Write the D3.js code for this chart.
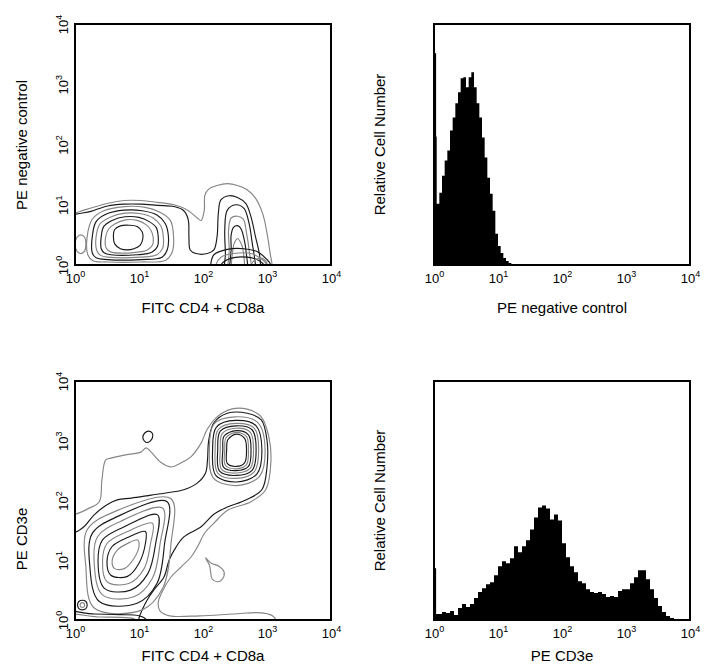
<!DOCTYPE html>
<html>
<head>
<meta charset="utf-8">
<title>Flow cytometry: CD4 + CD8a vs CD3e</title>
<script src="https://cdn.jsdelivr.net/npm/d3@7"></script>
<style>
    body { margin: 0; background: #fff; }
    text { font-family: "Liberation Sans", Arial, sans-serif; fill: #000; }
</style>
</head>
<body>
<svg id="chart" width="704" height="664"></svg>
<script>
    var FONT = '"Liberation Sans", Arial, sans-serif';
    var decadeTicks = [1, 10, 100, 1000, 10000];

    // ---- histograms (counts per bin, bins are log10 steps starting at 10^0)
    var negStep = 1 / 24;
    var negCounts = [128, 61, 72, 89, 104, 114, 134, 147, 161, 172, 186, 187, 177, 187, 192, 177,
        161, 147, 127, 107, 87, 71, 54, 31, 19, 12, 7, 4, 2, 1, 1, 1];
    var negFirstChannel = 211;

    var cd3Step = 1 / 16;
    var cd3Counts = [6, 6, 8, 7, 9, 5, 12, 16, 13, 16,
        22, 28, 32, 36, 38, 45, 54, 59, 57, 62,
        74, 68, 74, 80, 91, 103, 113, 115, 112, 101,
        106, 100, 77, 63, 54, 48, 39, 37, 31, 28,
        27, 28, 26, 23, 24, 23, 29, 31, 31, 37,
        43, 50, 50, 41, 31, 22, 14, 8, 4, 2,
        1, 1, 1, 1];
    var cd3FirstChannel = 52;

    // ---- contour rings, points are [log10 FITC, log10 PE]; anything past the frame is clipped
    var negOuter = [[-0.15,0.86],[0.0,0.86],[0.14,0.91],[0.50,1.02],[0.77,1.07],[1.03,1.07],[1.29,1.04],
        [1.55,1.0],[1.76,0.91],[1.91,0.78],[1.97,0.74],[2.02,0.91],[2.03,1.16],[2.09,1.26],[2.22,1.32],
        [2.38,1.35],[2.54,1.32],[2.69,1.25],[2.82,1.11],[2.93,0.86],[3.0,0.53],[3.05,0.19],[3.08,0.0],
        [3.1,-0.4],[-0.15,-0.4]];
    var negBand = [[-0.15,0.75],[0.25,0.89],[0.51,0.98],[0.77,1.01],[1.03,1.01],[1.29,0.99],[1.55,0.97],
        [1.70,0.90],[1.77,0.75],[1.78,0.47],[1.80,0.25],[1.89,0.19],[2.07,0.19],[2.17,0.25],[2.22,0.47],
        [2.24,0.86],[2.28,1.08],[2.41,1.15],[2.54,1.12],[2.67,1.02],[2.75,0.80],[2.82,0.47],[2.88,0.19],
        [2.90,0.0],[2.93,-0.4],[-0.15,-0.4]];
    var negDomes = [
        [[0.20,0.17],[0.19,0.47],[0.27,0.76],[0.45,0.90],[0.77,0.97],[1.08,0.96],[1.32,0.88],[1.49,0.74],
         [1.54,0.47],[1.52,0.22],[1.42,0.08],[1.03,0.05],[0.51,0.05],[0.28,0.07]],
        [[0.27,0.20],[0.27,0.47],[0.33,0.72],[0.50,0.85],[0.77,0.91],[1.05,0.90],[1.28,0.83],[1.41,0.69],
         [1.46,0.47],[1.44,0.25],[1.36,0.13],[1.03,0.09],[0.51,0.09],[0.33,0.12]],
        [[0.34,0.24],[0.33,0.47],[0.39,0.68],[0.54,0.79],[0.78,0.86],[1.03,0.85],[1.22,0.78],[1.34,0.65],
         [1.38,0.47],[1.37,0.28],[1.28,0.17],[1.03,0.13],[0.51,0.13],[0.40,0.16]],
        [[0.41,0.27],[0.41,0.47],[0.45,0.64],[0.58,0.74],[0.78,0.80],[1.0,0.79],[1.16,0.72],[1.27,0.62],
         [1.30,0.47],[1.29,0.31],[1.20,0.21],[0.97,0.17],[0.56,0.17],[0.46,0.20]],
        [[0.48,0.30],[0.48,0.47],[0.52,0.59],[0.62,0.68],[0.79,0.75],[0.97,0.74],[1.11,0.67],[1.19,0.57],
         [1.22,0.47],[1.21,0.33],[1.13,0.25],[0.95,0.21],[0.58,0.21],[0.52,0.24]]
    ];
    var negCore = [[0.60,0.47],[0.62,0.59],[0.71,0.65],[0.84,0.66],[0.97,0.64],[1.05,0.55],[1.06,0.44],
        [1.02,0.33],[0.92,0.27],[0.82,0.25],[0.71,0.27],[0.62,0.35]];
    var negEdge = [[0.0,0.35],[0.03,0.46],[0.09,0.50],[0.15,0.46],[0.17,0.35],[0.15,0.23],[0.09,0.19],[0.03,0.23]];
    var negRightPop = [
        [[2.35,-0.4],[2.35,0.19],[2.34,0.58],[2.38,0.91],[2.51,1.0],[2.64,0.94],[2.72,0.69],[2.77,0.36],[2.82,0.0],[2.84,-0.4]],
        [[2.41,-0.4],[2.41,0.25],[2.40,0.58],[2.44,0.78],[2.54,0.81],[2.63,0.76],[2.68,0.53],[2.72,0.25],[2.75,-0.4]],
        [[2.44,-0.4],[2.44,0.28],[2.44,0.50],[2.48,0.63],[2.55,0.65],[2.60,0.59],[2.64,0.44],[2.67,0.25],[2.68,-0.4]],
        [[2.47,-0.4],[2.47,0.28],[2.50,0.39],[2.54,0.44],[2.58,0.39],[2.62,0.28],[2.62,-0.4]]
    ];
    var negHot = [
        [[2.12,-0.4],[2.12,0.0],[2.17,0.17],[2.38,0.26],[2.64,0.27],[2.85,0.22],[2.98,0.11],[3.06,0.0],[3.06,-0.4]],
        [[2.20,-0.4],[2.20,0.0],[2.28,0.13],[2.48,0.19],[2.75,0.19],[2.90,0.11],[3.0,0.0],[3.0,-0.4]],
        [[2.28,-0.4],[2.28,0.0],[2.43,0.11],[2.69,0.13],[2.88,0.07],[2.95,0.0],[2.95,-0.4]],
        [[2.75,-0.4],[2.75,0.0],[2.82,0.09],[2.93,0.11],[3.01,0.0],[3.01,-0.4]]
    ];

    var cd3Outer = [[-0.16,1.76],[0.0,1.77],[0.20,1.86],[0.38,1.98],[0.42,2.34],[0.48,2.68],[0.56,2.71],
        [0.77,2.76],[1.03,2.81],[1.11,2.88],[1.19,2.81],[1.34,2.64],[1.50,2.56],[1.66,2.63],[1.81,2.73],
        [1.97,2.96],[2.06,3.18],[2.22,3.40],[2.44,3.53],[2.69,3.53],[2.91,3.40],[3.03,3.06],[3.06,2.63],
        [2.98,2.18],[2.75,1.98],[2.39,1.84],[2.17,1.62],[2.03,1.46],[1.91,1.22],[1.81,1.05],[1.66,0.89],
        [1.50,0.72],[1.36,0.47],[1.30,0.29],[1.33,0.15],[1.48,0.07],[1.95,0.07],[2.48,0.10],[2.91,0.12],
        [3.11,0.05],[3.17,-0.4],[-0.16,-0.4]];
    var cd3Band = [[-0.16,1.51],[0.0,1.47],[0.14,1.56],[0.30,1.76],[0.50,1.93],[0.66,2.01],[0.88,2.04],
        [1.19,2.09],[1.44,2.13],[1.70,2.18],[1.91,2.29],[2.04,2.46],[2.07,2.68],[2.09,3.01],[2.17,3.30],
        [2.38,3.46],[2.69,3.46],[2.91,3.35],[3.0,3.01],[3.0,2.56],[2.92,2.18],[2.67,2.01],[2.38,1.89],
        [2.17,1.77],[1.97,1.56],[1.70,1.39],[1.55,1.17],[1.47,1.0],[1.39,0.72],[1.23,0.50],[1.13,0.34],
        [1.05,0.17],[1.0,0.03],[0.97,-0.4],[-0.16,-0.4]];
    var cd3Upper = [
        [[2.10,2.85],[2.17,3.28],[2.50,3.40],[2.86,3.30],[2.97,2.85],[2.88,2.40],[2.52,2.25],[2.16,2.38]],
        [[2.15,2.85],[2.21,3.23],[2.51,3.34],[2.83,3.25],[2.92,2.85],[2.84,2.44],[2.52,2.31],[2.20,2.42]],
        [[2.19,2.85],[2.24,3.19],[2.51,3.29],[2.80,3.21],[2.87,2.85],[2.80,2.48],[2.52,2.37],[2.23,2.46]],
        [[2.23,2.85],[2.27,3.16],[2.52,3.25],[2.77,3.18],[2.83,2.85],[2.77,2.51],[2.52,2.42],[2.26,2.49]],
        [[2.27,2.85],[2.30,3.12],[2.52,3.21],[2.74,3.14],[2.79,2.85],[2.74,2.54],[2.52,2.46],[2.29,2.52]],
        [[2.31,2.85],[2.33,3.08],[2.52,3.17],[2.71,3.10],[2.75,2.85],[2.71,2.57],[2.52,2.50],[2.32,2.56]],
        [[2.34,2.85],[2.36,3.05],[2.52,3.14],[2.68,3.07],[2.71,2.85],[2.68,2.60],[2.52,2.53],[2.35,2.59]],
        [[2.37,2.85],[2.39,3.02],[2.52,3.11],[2.65,3.04],[2.68,2.85],[2.65,2.63],[2.52,2.57],[2.38,2.62]]
    ];
    var cd3Lower = [
        [[0.17,0.89],[0.19,1.51],[0.61,1.81],[1.50,2.03],[1.50,1.28],[1.37,0.53],[1.05,0.17],[0.30,0.20]],
        [[0.23,0.92],[0.27,1.45],[0.66,1.73],[1.44,1.98],[1.40,1.28],[1.28,0.61],[0.97,0.28],[0.38,0.31]],
        [[0.30,0.95],[0.35,1.39],[0.71,1.65],[1.37,1.87],[1.33,1.28],[1.21,0.70],[0.92,0.39],[0.43,0.42]],
        [[0.36,0.98],[0.43,1.34],[0.77,1.56],[1.29,1.76],[1.26,1.28],[1.14,0.78],[0.87,0.50],[0.46,0.53]],
        [[0.43,0.98],[0.50,1.28],[0.82,1.48],[1.21,1.62],[1.18,1.28],[1.08,0.86],[0.84,0.61],[0.50,0.64]],
        [[0.50,0.98],[0.58,1.23],[0.82,1.38],[1.10,1.48],[1.10,1.28],[1.0,0.95],[0.82,0.73],[0.56,0.75]],
        [[0.58,0.98],[0.66,1.17],[0.82,1.28],[0.98,1.34],[1.0,1.23],[0.92,1.03],[0.77,0.86],[0.62,0.86]]
    ];
    var cd3Islands = [
        [[1.06,3.06],[1.09,3.13],[1.15,3.16],[1.21,3.12],[1.21,3.05],[1.17,2.99],[1.12,2.97],[1.08,3.0]],
        [[2.04,1.04],[2.13,0.95],[2.25,0.90],[2.33,0.80],[2.30,0.68],[2.22,0.64],[2.14,0.69],[2.12,0.80],[2.10,0.92]],
        [[0.04,0.25],[0.06,0.31],[0.115,0.33],[0.17,0.31],[0.19,0.25],[0.17,0.19],[0.115,0.17],[0.06,0.19]],
        [[0.08,0.25],[0.09,0.28],[0.115,0.29],[0.14,0.28],[0.15,0.25],[0.14,0.22],[0.115,0.21],[0.09,0.22]]
    ];
    var cd3Floor = [
        [[-0.3,0.12],[0.3,0.10],[0.7,0.09],[1.0,0.07],[1.12,0.0],[1.15,-0.4],[-0.3,-0.4]],
        [[-0.3,0.06],[0.4,0.05],[0.8,0.04],[0.95,0.0],[0.97,-0.4],[-0.3,-0.4]]
    ];

    var negContours = [negOuter, negBand].concat(negDomes, [negCore, negEdge], negRightPop, negHot);
    var cd3Contours = [cd3Outer, cd3Band].concat(cd3Upper, cd3Lower, cd3Islands, cd3Floor);

    var svg = d3.select("#chart");

    function logX(box) {
        return d3.scaleLog().domain([1, 1e4]).range([box.left, box.left + box.width]);
    }

    function xAxis(g, x, box, title, titleY) {
        var ax = g.append("g")
            .attr("transform", "translate(0," + (box.top + box.height) + ")")
            .call(d3.axisBottom(x).tickValues(decadeTicks).tickSize(0).tickPadding(9)
                .tickFormat(function() { return "10"; }));
        ax.select(".domain").remove();
        ax.selectAll(".tick text")
            .attr("font-family", FONT).attr("font-size", 13).attr("fill", "#000")
            .append("tspan").attr("dy", -6).attr("font-size", 9)
            .text(function(d) { return Math.round(Math.log10(d)); });

        g.append("text")
            .attr("x", box.left + box.width / 2).attr("y", titleY)
            .attr("text-anchor", "middle").attr("font-size", 15)
            .text(title);
    }

    function yTitle(g, title, x, y) {
        g.append("text")
            .attr("transform", "translate(" + x + "," + y + ") rotate(-90)")
            .attr("text-anchor", "middle").attr("font-size", 15)
            .text(title);
    }

    function frame(g, box) {
        g.append("rect")
            .attr("x", box.left).attr("y", box.top)
            .attr("width", box.width).attr("height", box.height)
            .attr("fill", "none").attr("stroke", "#000").attr("stroke-width", 2);
    }

    function contourPanel(id, box, rings, xTitle, xTitleY, yLabel, yLabelY) {
        var g = svg.append("g");
        var x = logX(box);
        var y = d3.scaleLog().domain([1, 1e4]).range([box.top + box.height, box.top]);

        g.append("clipPath").attr("id", id)
            .append("rect")
            .attr("x", box.left).attr("y", box.top)
            .attr("width", box.width).attr("height", box.height);

        var line = d3.line()
            .x(function(p) { return x(Math.pow(10, p[0])); })
            .y(function(p) { return y(Math.pow(10, p[1])); })
            .curve(d3.curveCatmullRomClosed.alpha(0.5));

        g.append("g").attr("clip-path", "url(#" + id + ")")
            .selectAll("path")
            .data(rings)
            .enter().append("path")
            .attr("d", line)
            .attr("fill", "none")
            .attr("stroke", function(d, i) { return i % 2 ? "#1a1a1a" : "#858585"; })
            .attr("stroke-width", 1.15);

        var ay = g.append("g")
            .attr("transform", "translate(" + box.left + ",0)")
            .call(d3.axisLeft(y).tickValues(decadeTicks).tickSize(0)
                .tickFormat(function() { return "10"; }));
        ay.select(".domain").remove();
        ay.selectAll(".tick text")
            .attr("x", 0).attr("dy", 0)
            .attr("text-anchor", "middle")
            .attr("transform", "translate(-7,0) rotate(-90)")
            .attr("font-family", FONT).attr("font-size", 13).attr("fill", "#000")
            .append("tspan").attr("dy", -6).attr("font-size", 9)
            .text(function(d) { return Math.round(Math.log10(d)); });

        xAxis(g, x, box, xTitle, xTitleY);
        yTitle(g, yLabel, 27, yLabelY);
        frame(g, box);
    }

    function histPanel(box, counts, step, firstChannel, xTitle, xTitleY) {
        var g = svg.append("g");
        var x = logX(box);
        var y = d3.scaleLinear().domain([0, 240]).range([box.top + box.height, box.top]);

        var bins = counts.map(function(v, i) { return {i: i, v: v}; });
        bins.push({i: counts.length, v: counts[counts.length - 1]});

        var area = d3.area()
            .x(function(d) { return x(Math.pow(10, d.i * step)); })
            .y0(y(0))
            .y1(function(d) { return y(d.v); })
            .curve(d3.curveStepAfter);

        g.append("path").datum(bins)
            .attr("d", area)
            .attr("fill", "#000");

        // pile-up in the first channel
        g.append("rect")
            .attr("x", x(1) + 0.5).attr("width", 1.6)
            .attr("y", y(firstChannel)).attr("height", y(0) - y(firstChannel))
            .attr("fill", "#000");

        xAxis(g, x, box, xTitle, xTitleY);
        yTitle(g, "Relative Cell Number", 385, box.top + box.height / 2);
        frame(g, box);
    }

    contourPanel("clipNeg", {left: 75, top: 24, width: 256, height: 241}, negContours,
        "FITC CD4 + CD8a", 313, "PE negative control", 145);
    histPanel({left: 434, top: 24, width: 256, height: 241}, negCounts, negStep, negFirstChannel,
        "PE negative control", 313);
    contourPanel("clipCd3", {left: 75, top: 381, width: 256, height: 239}, cd3Contours,
        "FITC CD4 + CD8a", 661, "PE CD3e", 539);
    histPanel({left: 434, top: 381, width: 256, height: 239}, cd3Counts, cd3Step, cd3FirstChannel,
        "PE CD3e", 661);
</script>
</body>
</html>
